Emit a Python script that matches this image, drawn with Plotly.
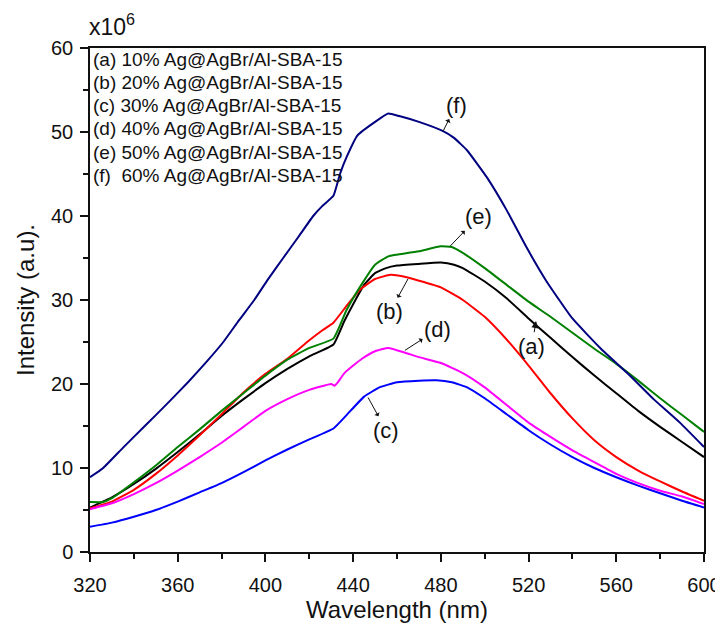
import plotly.graph_objects as go

# ---------------- data (wavelength nm, intensity x10^6) ----------------
a_x = [320, 330, 340, 350, 360, 370, 380, 390, 400, 410, 420, 431, 436, 440, 445, 450, 455, 460, 470, 480, 486, 490, 500, 510, 520, 530, 540, 550, 560, 570, 580, 590, 600]
a_y = [5.3, 6.5, 8.1, 9.9, 11.9, 14.0, 16.2, 18.2, 20.1, 21.8, 23.3, 24.7, 27.5, 29.5, 31.8, 33.2, 33.8, 34.1, 34.3, 34.45, 34.2, 33.8, 32.2, 30.2, 27.8, 25.5, 23.2, 21.0, 18.9, 16.8, 14.9, 13.1, 11.3]

b_x = [320, 330, 340, 350, 360, 370, 380, 390, 400, 410, 420, 426, 431, 437, 443, 450, 457, 463, 470, 480, 490, 500, 510, 520, 530, 540, 550, 560, 570, 580, 590, 600]
b_y = [5.2, 6.0, 7.4, 9.3, 11.5, 13.9, 16.4, 19.0, 21.2, 23.0, 25.2, 26.4, 27.3, 29.3, 31.2, 32.5, 33.0, 32.8, 32.3, 31.5, 30.0, 28.0, 25.3, 22.2, 18.9, 15.9, 13.3, 11.3, 9.7, 8.4, 7.2, 6.1]

c_x = [320, 330, 340, 350, 360, 370, 380, 390, 400, 410, 420, 431, 437, 445, 452, 460, 470, 478, 485, 492, 500, 510, 520, 530, 540, 550, 560, 570, 580, 590, 600]
c_y = [3.0, 3.5, 4.2, 5.0, 6.0, 7.1, 8.2, 9.5, 10.9, 12.2, 13.4, 14.7, 16.3, 18.5, 19.6, 20.2, 20.4, 20.45, 20.2, 19.6, 18.3, 16.4, 14.5, 12.8, 11.3, 10.0, 8.9, 7.9, 7.0, 6.1, 5.3]

d_x = [320, 330, 340, 350, 360, 370, 380, 390, 400, 410, 420, 430, 431.5, 433, 436, 444, 450, 456, 464, 470, 480, 490, 500, 510, 520, 530, 540, 550, 560, 570, 580, 590, 600]
d_y = [5.1, 5.8, 6.9, 8.2, 9.7, 11.3, 13.0, 14.9, 16.8, 18.2, 19.3, 20.0, 19.8, 20.2, 21.3, 23.0, 23.9, 24.3, 23.7, 23.2, 22.5, 21.3, 19.6, 17.5, 15.4, 13.7, 12.1, 10.7, 9.3, 8.2, 7.3, 6.6, 5.7]

e_x = [320, 326, 330, 340, 350, 360, 370, 380, 390, 400, 410, 420, 431, 437, 443, 450, 456, 460, 470, 480, 485, 490, 500, 510, 520, 530, 540, 550, 560, 570, 580, 590, 600]
e_y = [5.95, 5.95, 6.4, 8.3, 10.3, 12.5, 14.6, 16.8, 18.9, 21.0, 22.9, 24.3, 25.4, 28.8, 31.5, 34.2, 35.2, 35.4, 35.8, 36.4, 36.3, 35.6, 33.8, 31.8, 29.8, 28.0, 26.1, 24.2, 22.4, 20.4, 18.3, 16.3, 14.3]

f_x = [320, 326, 335, 345, 355, 365, 373, 380.8, 388, 394.9, 401, 408.1, 415, 421.8, 426, 431, 434, 437, 442, 450, 456, 461, 470, 481, 486, 492, 501, 510, 519, 528, 540, 553, 565, 577, 589, 600]
f_y = [8.9, 10.0, 12.4, 15.0, 17.6, 20.3, 22.6, 25.0, 27.6, 30.0, 32.4, 35.0, 37.5, 40.0, 41.2, 42.4, 45.0, 47.0, 49.6, 51.2, 52.2, 51.9, 51.2, 50.1, 49.3, 47.8, 44.6, 40.7, 36.3, 32.3, 27.8, 24.2, 21.3, 18.2, 15.4, 12.5]

series_names = ["(a)", "(b)", "(c)", "(d)", "(e)", "(f)"]
series_colors = ["#000000", "#ff0000", "#0000ff", "#ff00ff", "#008000", "#000080"]
legend_lines = [
    "(a) 10% Ag@AgBr/Al-SBA-15",
    "(b) 20% Ag@AgBr/Al-SBA-15",
    "(c) 30% Ag@AgBr/Al-SBA-15",
    "(d) 40% Ag@AgBr/Al-SBA-15",
    "(e) 50% Ag@AgBr/Al-SBA-15",
    "(f)  60% Ag@AgBr/Al-SBA-15",
]
x_ticks = [320, 360, 400, 440, 480, 520, 560, 600]
y_ticks = [0, 10, 20, 30, 40, 50, 60]

# curve labels: text centre (x, y), point on the curve (x, y), head at text side?
label_text_pos = {"(a)": (521.5, 24.5), "(b)": (456.8, 28.6), "(c)": (455.0, 14.5),
                  "(d)": (478.5, 26.5), "(e)": (497.0, 39.9), "(f)": (487.0, 53.2)}
label_curve_pt = {"(a)": (523.4, 27.5), "(b)": (465.0, 32.5), "(c)": (446.8, 18.4),
                  "(d)": (463.6, 24.0), "(e)": (484.2, 36.4), "(f)": (481.0, 50.1)}
label_head_at_text = {"(a)": False, "(b)": True, "(c)": True, "(d)": True, "(e)": True, "(f)": True}

FONT = "Liberation Sans, Arial, sans-serif"

fig = go.Figure()
xs = [a_x, b_x, c_x, d_x, e_x, f_x]
ys = [a_y, b_y, c_y, d_y, e_y, f_y]
for name, color, x, y in zip(series_names, series_colors, xs, ys):
    fig.add_trace(go.Scatter(x=x, y=y, mode="lines", name=name,
                             line=dict(color=color, width=2, shape="spline", smoothing=0.4),
                             showlegend=False))

annotations = []
# legend text block (top-left inside plot)
legend_y = [58.6, 55.9, 53.1, 50.4, 47.6, 44.8]
for txt, yy in zip(legend_lines, legend_y):
    annotations.append(dict(x=320, y=yy, xref="x", yref="y", text=txt, showarrow=False,
                            xanchor="left", yanchor="middle", xshift=1,
                            font=dict(family=FONT, size=19, color="#111")))
# curve labels with arrows
for name in series_names:
    tx, ty = label_text_pos[name]
    cx, cy = label_curve_pt[name]
    annotations.append(dict(x=cx, y=cy, ax=tx, ay=ty, xref="x", yref="y", axref="x", ayref="y",
                            text=name, showarrow=True, arrowhead=2, arrowsize=1.4,
                            arrowwidth=1, arrowcolor="#111",
                            arrowside="start" if label_head_at_text[name] else "end",
                            standoff=0, startstandoff=0,
                            font=dict(family=FONT, size=22, color="#111")))
# multiplier
annotations.append(dict(x=0, y=1, xref="paper", yref="paper", text="x10<sup>6</sup>",
                        showarrow=False, xanchor="left", yanchor="bottom", yshift=6, xshift=-3,
                        font=dict(family=FONT, size=23, color="#111")))

# the page body adds an 8px offset, so the figure is 8px smaller and margins shifted
fig.update_layout(
    width=715, height=622,
    margin=dict(l=82, r=19, t=40, b=78),
    paper_bgcolor="white", plot_bgcolor="white",
    font=dict(family=FONT, color="#111"),
    annotations=annotations,
    xaxis=dict(range=[320, 600], tickvals=x_ticks, ticks="outside", ticklen=8, tickwidth=1.5,
               tickcolor="#111", showline=True, linecolor="#111", linewidth=1.5, mirror=True,
               showgrid=False, zeroline=False, tickfont=dict(size=20), automargin=False,
               ticklabelstandoff=6,
               minor=dict(dtick=20, tick0=320, ticks="outside", ticklen=5, tickwidth=1.5, tickcolor="#111"),
               title=dict(text="Wavelength (nm)", font=dict(size=24), standoff=2)),
    yaxis=dict(range=[0, 60], tickvals=y_ticks, ticks="outside", ticklen=8, tickwidth=1.5,
               tickcolor="#111", showline=True, linecolor="#111", linewidth=1.5, mirror=True,
               showgrid=False, zeroline=False, tickfont=dict(size=20), automargin=False,
               ticklabelstandoff=3,
               minor=dict(dtick=5, tick0=0, ticks="outside", ticklen=5, tickwidth=1.5, tickcolor="#111"),
               title=dict(text="Intensity (a.u).", font=dict(size=24), standoff=10)),
)

fig.write_html("out.html")
